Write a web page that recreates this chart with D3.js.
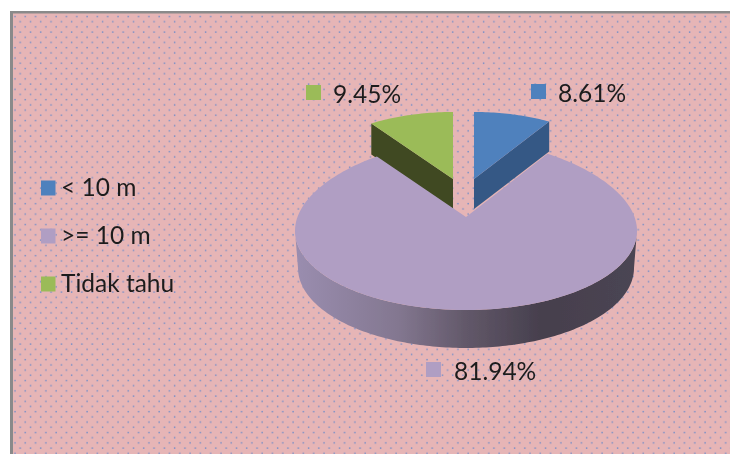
<!DOCTYPE html>
<html><head><meta charset="utf-8">
<script src="https://cdn.jsdelivr.net/npm/d3@7/dist/d3.min.js"></script>
<style>html,body{margin:0;padding:0;background:#fff}svg{display:block}text{font-family:Lato,"Open Sans",sans-serif;fill:#1c1c1c}</style>
</head><body><svg id="c" width="730" height="454"></svg>
<script>
const categories = ["< 10 m", ">= 10 m", "Tidak tahu"];
const values = [8.61, 81.94, 9.45];
const valueLabels = ["8.61%", "81.94%", "9.45%"];
const colors = ["#4f81bd", "#b09ec3", "#9bbb59"];
const wallColors = ["#365985", null, "#3f4a20"];

const svg = d3.select("#c");
const defs = svg.append("defs");
const blur = defs.append("filter").attr("id","soft");
blur.append("feGaussianBlur").attr("stdDeviation",0.4);
const pat = defs.append("pattern").attr("id","dots").attr("patternUnits","userSpaceOnUse")
  .attr("width",10.3).attr("height",10.4).attr("x",13).attr("y",14);
pat.append("rect").attr("width",10.3).attr("height",10.4).attr("fill","#e6b5b6");
pat.append("rect").attr("x",1.3).attr("y",1.8).attr("width",1.4).attr("height",1.4).attr("fill","#6f8cc8");
pat.append("rect").attr("x",6.45).attr("y",7).attr("width",1.4).attr("height",1.4).attr("fill","#6f8cc8");
const grad = defs.append("linearGradient").attr("id","wall").attr("gradientUnits","userSpaceOnUse")
  .attr("x1",296).attr("x2",637).attr("y1",0).attr("y2",0);
[[0,"#9a8daf"],[0.3,"#837790"],[0.5,"#625869"],[0.72,"#463f4d"],[1,"#4b4553"]]
  .forEach(([o,c])=>grad.append("stop").attr("offset",o).attr("stop-color",c));

const root = svg.append("g").attr("filter","url(#soft)");
root.append("rect").attr("x",10).attr("y",11).attr("width",730).attr("height",450).attr("fill","#8a8a8a");
root.append("rect").attr("x",13).attr("y",13.5).attr("width",730).attr("height",450).attr("fill","url(#dots)");

const arcs = d3.pie().sort(null).value(d=>d)(values);
const line = d3.line();
function sampled(a0,a1){ const n=Math.ceil(Math.abs(a1-a0)/0.02); return d3.range(n+1).map(i=>a0+(a1-a0)*i/n); }

// Small slices: plain ellipse projection around their own exploded apex
function smallPt(g,a){ return [g.cx+g.rx*Math.sin(a), g.cy-g.ry*Math.cos(a)]; }
const geom = [{cx:474,cy:179,rx:146,ry:67,d:30}, null, {cx:453,cy:179,rx:146,ry:67,d:31}];
[0,2].forEach(i=>{
  const g=geom[i], s=arcs[i], edge = i===0 ? s.endAngle : s.startAngle;
  const c=[g.cx,g.cy], p=smallPt(g,edge);
  root.append("path").attr("d",line([c,p,[p[0],p[1]+g.d],[c[0],c[1]+g.d]])+"Z").attr("fill",wallColors[i]);
  root.append("path").attr("d",line([c,...sampled(s.startAngle,s.endAngle).map(a=>smallPt(g,a))])+"Z").attr("fill",colors[i]);
});

// Large slice: the back narrows with perspective
const big={cx:466,cy:231,rx:171,ryBack:90,ryFront:79,apexY:217,depth:37,botRx:168,botCy:268,botRy:80};
function bigPt(a){
  const c=Math.cos(a), k=c>0?1-0.1*c*c:1;
  return [big.cx+big.rx*k*Math.sin(a), big.cy-(c>0?big.ryBack:big.ryFront)*c];
}
function botPt(a){ return [big.cx+big.botRx*Math.sin(a), big.botCy-big.botRy*Math.cos(a)]; }
const sBig=arcs[1];
const topFront=sampled(Math.PI/2,Math.PI*1.5).map(bigPt);
const botFront=sampled(Math.PI*1.5,Math.PI/2).map(botPt);
root.append("path").attr("d",line([...topFront,...botFront])+"Z").attr("fill","url(#wall)");
root.append("path").attr("d",line([[big.cx,big.apexY],...sampled(sBig.startAngle,sBig.endAngle).map(bigPt)])+"Z").attr("fill",colors[1]);

// Data labels
const labelPos=[{sx:531,sy:84,tx:558,ty:102},{sx:426,sy:362,tx:454,ty:380},{sx:306,sy:85,tx:333,ty:103}];
labelPos.forEach((p,i)=>{
  root.append("rect").attr("x",p.sx).attr("y",p.sy).attr("width",15).attr("height",15).attr("fill",colors[i]);
  root.append("text").attr("x",p.tx).attr("y",p.ty).attr("font-size",24.5).text(valueLabels[i]);
});
// Legend
const legendY=d3.scalePoint().domain(categories).range([196,292]);
categories.forEach((c,i)=>{
  root.append("rect").attr("x",41).attr("y",legendY(c)-15.5).attr("width",14.5).attr("height",15).attr("fill",colors[i]);
  root.append("text").attr("x",61).attr("y",legendY(c)).attr("font-size",24.5).text(c);
});
</script></body></html>
